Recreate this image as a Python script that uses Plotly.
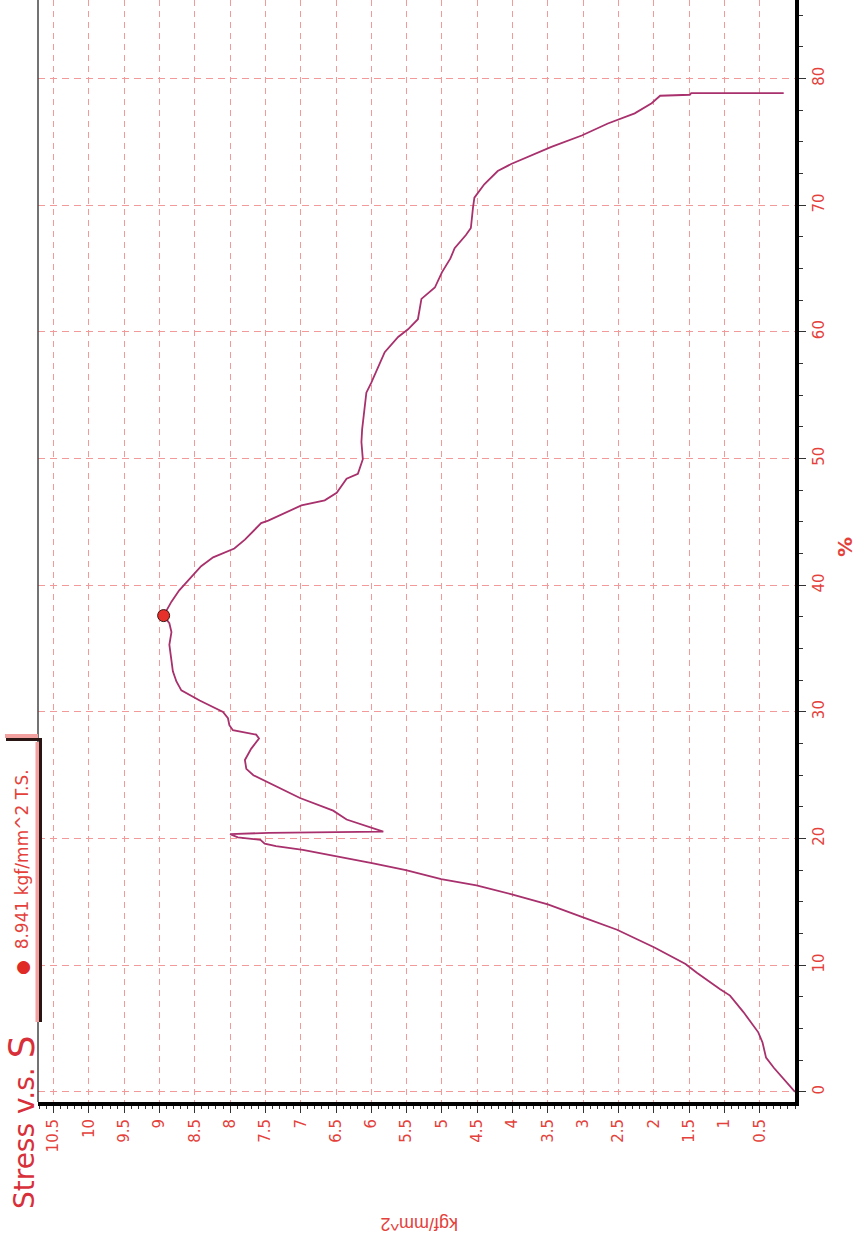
import plotly.graph_objects as go

# ---- data (strain %, stress kgf/mm^2) ----
strain = [0, 1.0, 1.9, 2.7, 3.9, 4.7, 6.3, 7.6, 8.1, 9.4, 10.1, 11.4, 12.8, 13.8, 14.8,
          15.6, 16.3, 16.8, 17.5, 18.05, 18.55, 19.1, 19.4, 19.6, 19.9, 20.1, 20.35,
          20.45, 20.5, 20.55, 21.5, 22.2, 23.2, 24.5, 25.0, 25.5, 26.2, 27.1, 27.9,
          28.2, 28.55, 28.95, 29.5, 30.0, 30.9, 31.7, 32.4, 33.2, 34.2, 35.3, 36.3,
          37.0, 37.6, 38.7, 39.6, 40.5, 41.5, 42.2, 42.9, 43.6, 44.9, 45.1, 46.3,
          46.7, 47.3, 48.4, 48.8, 49.95, 51.3, 52.3, 54.2, 55.2, 56.0, 58.4, 59.6,
          60.2, 61.0, 62.6, 63.5, 64.7, 65.8, 66.6, 67.65, 68.2, 69.8, 70.6, 71.65,
          72.7, 73.25, 73.8, 74.6, 75.5, 76.45, 77.25, 78.05, 78.64, 78.72, 78.85, 78.85]
stress = [0, 0.16, 0.30, 0.41, 0.46, 0.52, 0.73, 0.92, 1.06, 1.39, 1.55, 1.99, 2.52, 3.01, 3.50,
          4.01, 4.51, 5.01, 5.51, 5.99, 6.48, 6.97, 7.35, 7.51, 7.57, 7.89, 8.0,
          7.45, 6.5, 5.83, 6.35, 6.54, 7.01, 7.49, 7.67, 7.77, 7.79, 7.70, 7.59,
          7.63, 7.96, 8.01, 8.03, 8.10, 8.43, 8.69, 8.76, 8.81, 8.83, 8.86, 8.83,
          8.86, 8.941, 8.83, 8.72, 8.57, 8.41, 8.24, 7.94, 7.79, 7.56, 7.46, 6.99,
          6.66, 6.49, 6.35, 6.19, 6.12, 6.14, 6.13, 6.09, 6.07, 6.00, 5.81, 5.62,
          5.48, 5.34, 5.29, 5.10, 5.00, 4.88, 4.82, 4.66, 4.59, 4.56, 4.54, 4.40,
          4.21, 4.02, 3.78, 3.45, 3.02, 2.65, 2.27, 2.03, 1.91, 1.49, 1.47, 0.16]

ts_stress = [8.941]
ts_strain = [37.6]

stress_ticks = [0.5, 1, 1.5, 2, 2.5, 3, 3.5, 4, 4.5, 5, 5.5, 6, 6.5, 7, 7.5, 8, 8.5, 9, 9.5, 10, 10.5]
stress_labels = ["0.5", "1", "1.5", "2", "2.5", "3", "3.5", "4", "4.5", "5", "5.5", "6", "6.5",
                 "7", "7.5", "8", "8.5", "9", "9.5", "10", "10.5"]
strain_ticks = [0, 10, 20, 30, 40, 50, 60, 70, 80]
strain_labels = ["0", "10", "20", "30", "40", "50", "60", "70", "80"]

RED = "#e4413b"
GRID = "#f29a9a"
LINE = "#a8306c"

fig = go.Figure()
fig.add_trace(go.Scatter(x=stress, y=strain, mode="lines",
                         line=dict(color=LINE, width=1.8), showlegend=False))
fig.add_trace(go.Scatter(x=ts_stress, y=ts_strain, mode="markers",
                         marker=dict(color="#e8302a", size=12, line=dict(color="#3a1414", width=1)),
                         showlegend=False))

W, H = 857, 1247
L, R, T, B = 38, 62, 0, 145
PW, PH = W - L - R, H - T - B


def px(xp):
    return (xp - L) / PW


def py(yp):
    return (H - B - yp) / PH


fig.update_layout(
    width=W, height=H,
    margin=dict(l=L, r=R, t=T, b=B),
    paper_bgcolor="white", plot_bgcolor="white",
    font=dict(family="DejaVu Sans", color=RED),
    xaxis=dict(range=[10.72, 0], tickvals=stress_ticks, ticktext=stress_labels,
               tickangle=-90, tickfont=dict(size=15, color=RED, family="DejaVu Sans"),
               showgrid=True, gridcolor=GRID, gridwidth=1, griddash="6px,5px",
               zeroline=False, showline=True, linecolor="black", linewidth=4,
               ticks="outside", ticklen=7, tickcolor="#333", tickwidth=1,
               minor=dict(tickmode="linear", tick0=0, dtick=0.1, ticks="outside",
                          ticklen=3, tickcolor="#333", showgrid=False)),
    yaxis=dict(range=[-0.8, 86.2], side="right", tickvals=strain_ticks, ticktext=strain_labels,
               tickangle=-90, tickfont=dict(size=15, color=RED, family="DejaVu Sans"),
               showgrid=True, gridcolor=GRID, gridwidth=1, griddash="7px,5px",
               zeroline=False, showline=True, linecolor="black", linewidth=4,
               ticks="outside", ticklen=7, tickcolor="#333", tickwidth=1,
               minor=dict(tickmode="linear", tick0=0, dtick=2.5, ticks="outside",
                          ticklen=4, tickcolor="#333", showgrid=False)),
)

shapes = [
    # thin left frame
    dict(type="line", xref="paper", yref="paper", x0=0, x1=0, y0=0, y1=1,
         line=dict(color="#444", width=1.5)),
    # legend box border (pink shadow then black)
    dict(type="line", xref="paper", yref="paper", x0=px(37.5), x1=px(37.5), y0=py(742), y1=py(1022),
         line=dict(color="#f3a0a0", width=4)),
    dict(type="line", xref="paper", yref="paper", x0=px(5), x1=px(38), y0=py(736), y1=py(736),
         line=dict(color="#f3a0a0", width=4)),
    dict(type="line", xref="paper", yref="paper", x0=px(40.5), x1=px(40.5), y0=py(738), y1=py(1022),
         line=dict(color="#2a1515", width=3)),
    dict(type="line", xref="paper", yref="paper", x0=px(6), x1=px(42), y0=py(739.5), y1=py(739.5),
         line=dict(color="#2a1515", width=3)),
]
fig.update_layout(shapes=shapes)

annotations = [
    dict(text="Stress v.s. <span style='font-size:36px'>S</span>", x=px(21), y=py(1122),
         xref="paper", yref="paper", showarrow=False, textangle=-90,
         xanchor="center", yanchor="middle",
         font=dict(size=28, color="#d8303a", family="DejaVu Sans")),
    dict(text="<span style='color:#e02a26'>●</span>  8.941 kgf/mm^2 T.S.", x=px(22), y=py(872),
         xref="paper", yref="paper", showarrow=False, textangle=-90,
         xanchor="center", yanchor="middle",
         font=dict(size=17, color=RED, family="DejaVu Sans")),
    dict(text="<b>%</b>", x=px(845), y=py(547), xref="paper", yref="paper", showarrow=False,
         textangle=-90, xanchor="center", yanchor="middle",
         font=dict(size=20, color=RED, family="DejaVu Sans")),
    dict(text="kgf/mm^2", x=px(420), y=py(1224), xref="paper", yref="paper", showarrow=False,
         textangle=180, xanchor="center", yanchor="middle",
         font=dict(size=18, color=RED, family="Liberation Sans")),
]
fig.update_layout(annotations=annotations)

fig.write_html("out.html")
